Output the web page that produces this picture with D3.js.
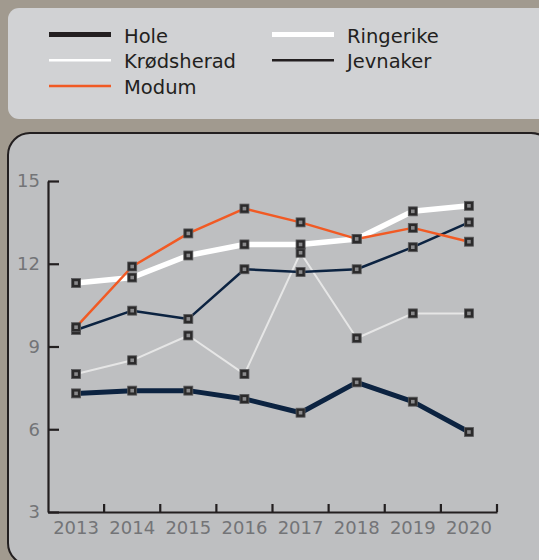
<!DOCTYPE html>
<html>
<head>
<meta charset="utf-8">
<script src="https://cdn.jsdelivr.net/npm/d3@7"></script>
<style>
  body { margin: 0; background: #a19a8f; }
  svg { display: block; font-family: "DejaVu Sans", sans-serif; }
</style>
</head>
<body>
<div id="chart"></div>
<script>
const years = [2013, 2014, 2015, 2016, 2017, 2018, 2019, 2020];
const hole = [7.3, 7.4, 7.4, 7.1, 6.6, 7.7, 7.0, 5.9];
const krodsherad = [8.0, 8.5, 9.4, 8.0, 12.4, 9.3, 10.2, 10.2];
const modum = [9.7, 11.9, 13.1, 14.0, 13.5, 12.9, 13.3, 12.8];
const ringerike = [11.3, 11.5, 12.3, 12.7, 12.7, 12.9, 13.9, 14.1];
const jevnaker = [9.6, 10.3, 10.0, 11.8, 11.7, 11.8, 12.6, 13.5];
const yTicks = [3, 6, 9, 12, 15];

// legend colour can differ from the line colour in the chart
const series = [
  { name: "Hole", values: hole, color: "#0c2341", width: 5, legendColor: "#231f20", col: 0, row: 0 },
  { name: "Krødsherad", values: krodsherad, color: "#e6e6e6", width: 2, legendColor: "#ffffff", col: 0, row: 1 },
  { name: "Jevnaker", values: jevnaker, color: "#0c2341", width: 2.5, legendColor: "#231f20", col: 1, row: 1 },
  { name: "Ringerike", values: ringerike, color: "#ffffff", width: 5.5, legendColor: "#ffffff", col: 1, row: 0 },
  { name: "Modum", values: modum, color: "#f15a24", width: 2.5, legendColor: "#f15a24", col: 0, row: 2 }
];

const W = 539, H = 560;
const svg = d3.select("#chart").append("svg").attr("width", W).attr("height", H);

svg.append("rect").attr("width", W).attr("height", H).attr("fill", "#a19a8f");

// legend box
svg.append("rect")
  .attr("x", 8).attr("y", 8).attr("width", 560).attr("height", 111)
  .attr("rx", 11).attr("fill", "#d1d2d4");

const legend = svg.append("g");
series.forEach(s => {
  const lx = s.col === 0 ? 49 : 272;
  const ly = 34.5 + s.row * 25.8;
  const lw = s.width >= 5 ? 5 : 2.5;
  legend.append("line")
    .attr("x1", lx).attr("x2", lx + 62)
    .attr("y1", ly).attr("y2", ly)
    .attr("stroke", s.legendColor).attr("stroke-width", lw);
  legend.append("text")
    .attr("x", lx + 75).attr("y", ly + 8)
    .attr("font-size", 19.5).attr("fill", "#231f20")
    .text(s.name);
});

// chart panel
svg.append("rect")
  .attr("x", 8).attr("y", 133).attr("width", 545).attr("height", 432)
  .attr("rx", 22).attr("fill", "#bebfc1")
  .attr("stroke", "#231f20").attr("stroke-width", 2);

const x = d3.scaleBand().domain(years).range([48, 497]).padding(0);
const y = d3.scaleLinear().domain([3, 15]).range([512, 181]);
const cx = d => x(d) + x.bandwidth() / 2;

// y axis
const yAxis = svg.append("g")
  .attr("transform", "translate(48,0)")
  .call(d3.axisLeft(y).tickValues(yTicks).tickSize(-11).tickPadding(8).tickSizeOuter(0));
yAxis.select(".domain").attr("stroke", "#231f20").attr("stroke-width", 2.2);
yAxis.selectAll(".tick line").attr("stroke", "#231f20").attr("stroke-width", 2.2);
yAxis.selectAll(".tick text")
  .attr("font-size", 18).attr("fill", "#737477").attr("font-family", "DejaVu Sans, sans-serif");

// x axis
const xAxis = svg.append("g")
  .attr("transform", "translate(0,512)")
  .call(d3.axisBottom(x).tickSize(0).tickPadding(9));
xAxis.select(".domain").attr("stroke", "#231f20").attr("stroke-width", 2.2);
xAxis.selectAll(".tick text")
  .attr("font-size", 18).attr("fill", "#737477").attr("font-family", "DejaVu Sans, sans-serif");

// x ticks on band boundaries, pointing up
svg.append("g").selectAll("line")
  .data(years)
  .join("line")
  .attr("x1", d => x(d) + x.bandwidth()).attr("x2", d => x(d) + x.bandwidth())
  .attr("y1", 512).attr("y2", 504)
  .attr("stroke", "#231f20").attr("stroke-width", 2.2);

// lines
const line = d3.line().x((d, i) => cx(years[i])).y(d => y(d));
svg.append("g").selectAll("path")
  .data(series)
  .join("path")
  .attr("fill", "none")
  .attr("stroke", d => d.color)
  .attr("stroke-width", d => d.width)
  .attr("stroke-linejoin", "round")
  .attr("d", d => line(d.values));

// markers
const pts = series.flatMap(s => s.values.map((v, i) => ({ year: years[i], value: v })));
const mk = svg.append("g").selectAll("g")
  .data(pts)
  .join("g")
  .attr("transform", d => `translate(${cx(d.year)},${y(d.value)})`);
mk.append("rect")
  .attr("x", -4.5).attr("y", -4.5).attr("width", 9).attr("height", 9)
  .attr("fill", "#2b2a2b").attr("stroke", "#5a5a5c").attr("stroke-width", 0.8);
mk.append("rect")
  .attr("x", -1.8).attr("y", -1.8).attr("width", 3.6).attr("height", 3.6)
  .attr("fill", "#8a8a8c");
</script>
</body>
</html>
